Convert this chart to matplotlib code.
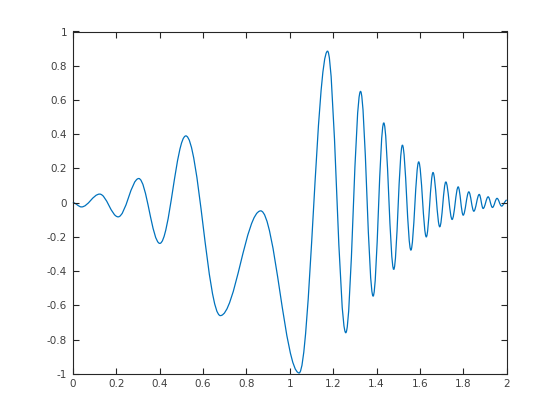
import numpy as np
import matplotlib
matplotlib.use("Agg")
import matplotlib.pyplot as plt
from matplotlib.path import Path
from matplotlib.patches import PathPatch

# turning points of the trace
peak_x = [0.0, 0.040, 0.124, 0.209, 0.304, 0.401, 0.521, 0.680, 0.866, 1.043,
          1.174, 1.258, 1.326, 1.384, 1.433, 1.479, 1.519, 1.558, 1.594, 1.629,
          1.660, 1.691, 1.719, 1.748, 1.776, 1.799, 1.825, 1.848, 1.873, 1.891,
          1.914, 1.934, 1.955, 1.976, 2.0]
peak_y = [0.0, -0.025, 0.050, -0.083, 0.141, -0.238, 0.390, -0.660, -0.048, -0.995,
          0.885, -0.760, 0.650, -0.546, 0.466, -0.390, 0.336, -0.277, 0.238, -0.200,
          0.176, -0.141, 0.121, -0.098, 0.092, -0.073, 0.063, -0.050, 0.048, -0.034,
          0.034, -0.028, 0.025, -0.020, 0.015]

x_ticks = [0, 0.2, 0.4, 0.6, 0.8, 1, 1.2, 1.4, 1.6, 1.8, 2]
x_labels = ["0", "0.2", "0.4", "0.6", "0.8", "1", "1.2", "1.4", "1.6", "1.8", "2"]
y_ticks = [-1, -0.8, -0.6, -0.4, -0.2, 0, 0.2, 0.4, 0.6, 0.8, 1]
y_labels = ["-1", "-0.8", "-0.6", "-0.4", "-0.2", "0", "0.2", "0.4", "0.6", "0.8", "1"]

line_color = (0, 0.447, 0.741)

fig = plt.figure(figsize=(5.6, 4.2), dpi=100)
ax = fig.add_axes([0.13, 0.11, 0.775, 0.815])

# smooth half-waves between turning points (cubic bezier, flat at extrema)
k = 0.3634
verts = [(peak_x[0], peak_y[0])]
codes = [Path.MOVETO]
for i in range(len(peak_x) - 1):
    x0, y0 = peak_x[i], peak_y[i]
    x1, y1 = peak_x[i + 1], peak_y[i + 1]
    dx = x1 - x0
    verts += [(x0 + k * dx, y0), (x1 - k * dx, y1), (x1, y1)]
    codes += [Path.CURVE4] * 3
ax.add_patch(PathPatch(Path(verts, codes), fill=False, edgecolor=line_color,
                       lw=0.9, clip_on=False))

ax.set_xlim(0, 2)
ax.set_ylim(-1, 1)
ax.set_xticks(x_ticks)
ax.set_xticklabels(x_labels)
ax.set_yticks(y_ticks)
ax.set_yticklabels(y_labels)
ax.tick_params(direction="in", length=4, width=0.8, top=True, right=True,
               labelsize=7.5, colors="#262626", labelcolor="#404040", pad=4)
for s in ax.spines.values():
    s.set_color("#262626")
    s.set_linewidth(0.8)

fig.savefig("out.png", dpi=100)
